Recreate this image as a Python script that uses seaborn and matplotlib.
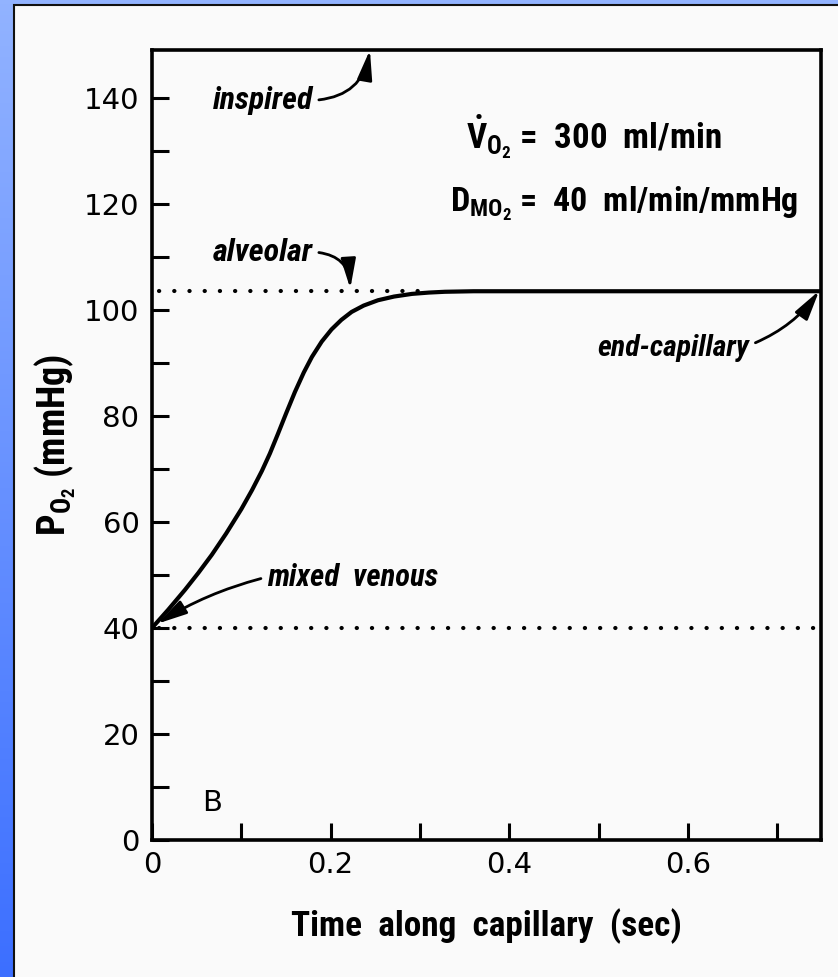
import numpy as np
import pandas as pd
import matplotlib
matplotlib.use("Agg")
import matplotlib.pyplot as plt
from matplotlib import font_manager as fm
from matplotlib.patches import Rectangle
from matplotlib.text import Text
from matplotlib.ticker import MultipleLocator
import seaborn as sns

# Oxygen uptake along the pulmonary capillary
time_s = [0.0, 0.018, 0.037, 0.052, 0.067, 0.083, 0.100, 0.112, 0.123, 0.132, 0.141,
          0.150, 0.160, 0.170, 0.179, 0.190, 0.201, 0.212, 0.2235, 0.237, 0.253,
          0.271, 0.291, 0.310, 0.328, 0.36, 0.40, 0.50, 0.60, 0.70, 0.75]
po2_mmhg = [40.0, 43.4, 47.2, 50.4, 53.8, 57.8, 62.4, 66.0, 69.6, 72.9, 76.6,
            80.4, 84.5, 88.2, 91.1, 94.0, 96.3, 98.1, 99.6, 100.8, 101.8,
            102.5, 103.0, 103.25, 103.4, 103.5, 103.5, 103.5, 103.5, 103.5, 103.5]

alveolar_po2 = 103.5
alveolar_span = [0.008, 0.30]
venous_po2 = 40.0
venous_span = [0.008, 0.742]

x_ticks = [0, 0.2, 0.4, 0.6]
x_tick_labels = ["0", "0.2", "0.4", "0.6"]
y_ticks = [0, 20, 40, 60, 80, 100, 120, 140]
y_tick_labels = ["0", "20", "40", "60", "80", "100", "120", "140"]

curve = pd.DataFrame({"time": time_s, "po2": po2_mmhg})

sns.set_theme(style="white")

# pick the narrowest bold sans that is installed
installed = {f.name for f in fm.fontManager.ttflist}
narrow = next((n for n in ["Liberation Sans Narrow", "DejaVu Sans Condensed",
                           "Roboto Condensed", "Roboto", "Lato"] if n in installed),
              "DejaVu Sans")
cond = [narrow, "DejaVu Sans"]
plt.rcParams["font.family"] = ["DejaVu Sans"]
plt.rcParams["mathtext.fontset"] = "custom"
plt.rcParams["mathtext.rm"] = f"{narrow}:bold"
plt.rcParams["mathtext.bf"] = f"{narrow}:bold"
plt.rcParams["mathtext.it"] = f"{narrow}:bold:italic"

W, H = 838, 977
fig = plt.figure(figsize=(W / 100, H / 100), dpi=100)

# blue slide frame with a white panel
bg = fig.add_axes([0, 0, 1, 1], zorder=-10)
top_col = np.array([0x92, 0xb3, 0xff]) / 255
bot_col = np.array([0x3c, 0x6f, 0xff]) / 255
t = np.linspace(0, 1, 256)[:, None]
grad = (top_col[None, :] * (1 - t) + bot_col[None, :] * t)[:, None, :]
bg.imshow(grad, aspect="auto", extent=[0, 1, 0, 1], origin="upper")
bg.add_patch(Rectangle((14 / W, -0.01), 1.0, 1 - 5 / H + 0.01, facecolor="#fafafa",
                       edgecolor="#111111", linewidth=1.5))
bg.set_xlim(0, 1)
bg.set_ylim(0, 1)
bg.axis("off")

ax = fig.add_axes([152 / W, 1 - 840 / H, (821 - 152) / W, (840 - 50) / H])
ax.set_facecolor("none")

sns.lineplot(data=curve, x="time", y="po2", ax=ax, color="black", linewidth=3.0,
             solid_capstyle="round")
dots = dict(color="black", linewidth=3.0, linestyle=(0, (0.05, 3.6)),
            dash_capstyle="round")
ax.plot(alveolar_span, [alveolar_po2] * 2, **dots)
ax.plot(venous_span, [venous_po2] * 2, **dots)

ax.set_xlim(0, 0.749)
ax.set_ylim(0, 149)
ax.set_xticks(x_ticks)
ax.set_xticklabels(x_tick_labels)
ax.set_yticks(y_ticks)
ax.set_yticklabels(y_tick_labels)
ax.xaxis.set_minor_locator(MultipleLocator(0.1))
ax.yaxis.set_minor_locator(MultipleLocator(10))
ax.tick_params(which="both", direction="in", length=12.5, width=2.2, color="black",
               labelsize=21, labelcolor="black")
ax.tick_params(axis="x", which="both", pad=8, bottom=True, top=False)
ax.tick_params(axis="y", which="both", pad=9, left=True, right=False)
for sp in ax.spines.values():
    sp.set_visible(True)
    sp.set_color("black")
    sp.set_linewidth(2.6)

xlab = ax.set_xlabel("Time  along  capillary  (sec)", family=cond, fontweight="bold",
                     fontsize=27, labelpad=21, color="black")
ylab = ax.set_ylabel(r"P$_{\mathrm{O}_2}$ (mmHg)", family=cond, fontweight="bold",
                     fontsize=25, labelpad=4, color="black")

arrow_kw = dict(arrowstyle="-|>,head_length=1.0,head_width=0.25", color="black",
                lw=2.0, mutation_scale=18, shrinkA=2, shrinkB=0)
note_kw = dict(family=cond, fontweight="bold", fontstyle="italic", fontsize=19,
               color="black", ha="center", va="center")

n_insp = ax.annotate("inspired", xy=(0.244, 149), xytext=(0.124, 139.5),
                     arrowprops=dict(**arrow_kw, relpos=(1.0, 0.5),
                                     connectionstyle="arc3,rad=0.4"),
                     annotation_clip=False, **note_kw)
n_alv = ax.annotate("alveolar", xy=(0.222, 104.0), xytext=(0.124, 110.9),
                    arrowprops=dict(**arrow_kw, relpos=(1.0, 0.5),
                                    connectionstyle="arc3,rad=-0.45"),
                    **note_kw)
n_end = ax.annotate("end-capillary", xy=(0.747, 103.6), xytext=(0.584, 92.8),
                    arrowprops=dict(**arrow_kw, relpos=(1.0, 0.6),
                                    connectionstyle="arc3,rad=0.15"),
                    **note_kw)
n_mix = ax.annotate("mixed  venous", xy=(0.006, 40.8), xytext=(0.2244, 49.6),
                    arrowprops=dict(**arrow_kw, relpos=(0.0, 0.5),
                                    connectionstyle="arc3,rad=0.08"),
                    **note_kw)

ax.text(0.067, 7.0, "B", fontsize=21, color="black", ha="center", va="center")

line1 = ax.text(0.352, 130.2, r"$\dot{\mathrm{V}}_{\mathrm{O}_2}$ =  300  ml/min",
                family=cond, fontweight="bold", fontsize=23, color="black",
                ha="left", va="baseline")
line2 = ax.text(0.3335, 118.5, r"D$_{\mathrm{MO}_2}$ =  40  ml/min/mmHg",
                family=cond, fontweight="bold", fontsize=23, color="black",
                ha="left", va="baseline")

# scale each label so its text (not any arrow) spans the intended size in pixels
renderer = fig.canvas.get_renderer()
targets = [(xlab, 390, "w"), (ylab, 182, "h"), (n_insp, 100, "w"), (n_alv, 100, "w"),
           (n_end, 152, "w"), (n_mix, 171, "w"), (line1, 256, "w"), (line2, 348, "w")]
for artist, px, dim in targets:
    for _ in range(2):
        bb = Text.get_window_extent(artist, renderer)
        cur = bb.width if dim == "w" else bb.height
        artist.set_fontsize(artist.get_fontsize() * px / cur)

fig.savefig("out.png", dpi=100)
